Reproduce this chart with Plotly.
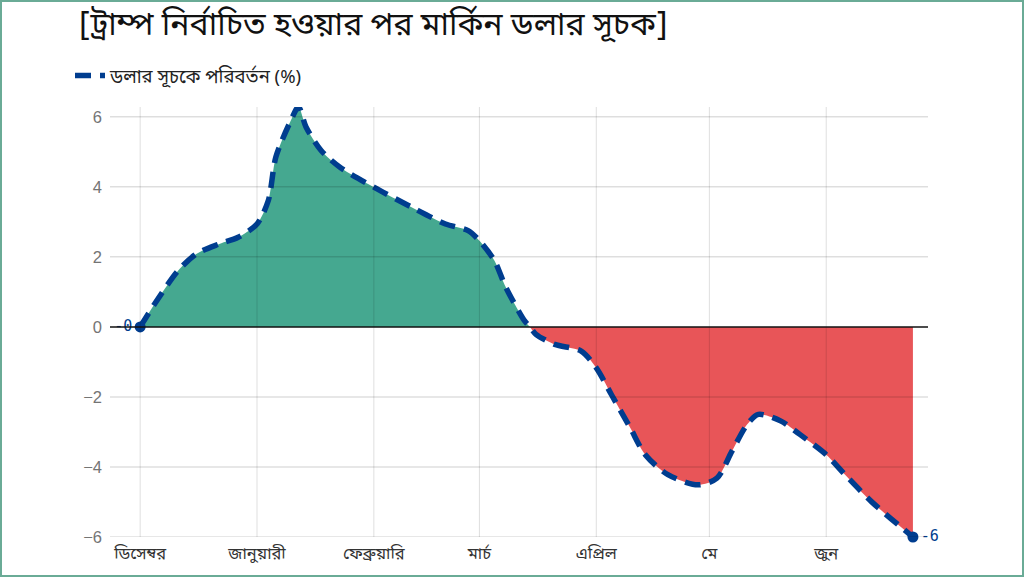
import plotly.graph_objects as go

# ---- data ----
dates = ["2024-12-01", "2024-12-05", "2024-12-11", "2024-12-16", "2024-12-22", "2024-12-27",
         "2025-01-01", "2025-01-04", "2025-01-06", "2025-01-10", "2025-01-12", "2025-01-14",
         "2025-01-18", "2025-01-23", "2025-02-01", "2025-02-11", "2025-02-20", "2025-02-26",
         "2025-03-01", "2025-03-05", "2025-03-08", "2025-03-13", "2025-03-14 10:00",
         "2025-03-16", "2025-03-21", "2025-03-28", "2025-04-01", "2025-04-05", "2025-04-10",
         "2025-04-14", "2025-04-20", "2025-04-28", "2025-05-03", "2025-05-07", "2025-05-11",
         "2025-05-14", "2025-05-20", "2025-05-25", "2025-06-01", "2025-06-06", "2025-06-13",
         "2025-06-24"]
values = [0, 0.68, 1.6, 2.09, 2.37, 2.56,
          2.94, 3.61, 4.85, 5.9, 6.28, 5.71,
          5.04, 4.56, 3.99, 3.42, 2.94, 2.75,
          2.46, 1.89, 1.13, 0.17, 0,
          -0.21, -0.5, -0.69, -1.17, -1.93, -2.88,
          -3.65, -4.22, -4.51, -4.32, -3.55, -2.79,
          -2.5, -2.69, -3.07, -3.65, -4.22, -4.99,
          -6.0]
tick_dates = ["2024-12-01", "2025-01-01", "2025-02-01", "2025-03-01",
              "2025-04-01", "2025-05-01", "2025-06-01"]
tick_labels = ["ডিসেম্বর", "জানুয়ারী", "ফেব্রুয়ারি", "মার্চ", "এপ্রিল", "মে", "জুন"]
y_ticks = [-6, -4, -2, 0, 2, 4, 6]
series_name = "ডলার সূচকে পরিবর্তন (%)"
title_text = "[ট্রাম্প নির্বাচিত হওয়ার পর মার্কিন ডলার সূচক]"
end_labels = ["-0", "-6"]

FONT = "Noto Sans Bengali, Noto Sans, Lato, sans-serif"
GREEN = "#45a890"
RED = "#e85558"
BLUE = "#003d8f"

cross = values.index(0, 1)
pos_x, pos_y = dates[:cross + 1], values[:cross + 1]
neg_x, neg_y = dates[cross:], values[cross:]

fig = go.Figure()
fig.add_trace(go.Scatter(x=pos_x, y=pos_y, mode="lines", fill="tozeroy",
                         fillcolor=GREEN, line=dict(width=0, shape="spline", smoothing=0.8),
                         showlegend=False, hoverinfo="skip"))
fig.add_trace(go.Scatter(x=neg_x, y=neg_y, mode="lines", fill="tozeroy",
                         fillcolor=RED, line=dict(width=0, shape="spline", smoothing=0.8),
                         showlegend=False, hoverinfo="skip"))
fig.add_trace(go.Scatter(x=dates, y=values, mode="lines", name=series_name,
                         line=dict(color=BLUE, width=5.5, dash="16px,9px", shape="spline",
                                   smoothing=0.8)))
fig.add_trace(go.Scatter(x=[dates[0], dates[-1]], y=[values[0], values[-1]],
                         mode="markers+text", text=end_labels,
                         textposition=["middle left", "middle right"],
                         textfont=dict(color=BLUE, size=15, family="DejaVu Sans Mono"),
                         marker=dict(color=BLUE, size=11), cliponaxis=False,
                         showlegend=False))

shapes = []
for d in tick_dates:
    shapes.append(dict(type="line", xref="x", yref="paper", x0=d, x1=d, y0=0, y1=1,
                       line=dict(color="rgba(0,0,0,0.13)", width=1), layer="above"))
for v in y_ticks:
    if v != 0:
        shapes.append(dict(type="line", xref="paper", yref="y", x0=0, x1=1, y0=v, y1=v,
                           line=dict(color="rgba(0,0,0,0.13)", width=1.5), layer="above"))
shapes.append(dict(type="line", xref="paper", yref="y", x0=0, x1=1, y0=0, y1=0,
                   line=dict(color="#111", width=1.5), layer="above"))
# outer frame
L, R, T, B = 110, 96, 107, 40
W, H = 1024, 577
pw, ph = W - L - R, H - T - B
shapes.append(dict(type="rect", xref="paper", yref="paper",
                   x0=(1 - L) / pw, x1=(W - 1 - L) / pw,
                   y0=-(B - 1) / ph, y1=1 + (T - 1) / ph,
                   line=dict(color="#6aab96", width=2), layer="above"))

fig.update_layout(
    width=W, height=H,
    margin=dict(l=L, r=R, t=T, b=B),
    paper_bgcolor="white", plot_bgcolor="white",
    font=dict(family=FONT),
    title=dict(text=title_text, xref="container", yref="container",
               x=79 / W, xanchor="left", y=1 - 13 / H, yanchor="top",
               font=dict(size=32, color="#111", family=FONT)),
    showlegend=True,
    legend=dict(xref="container", yref="container", x=70 / W, y=1 - 57 / H,
                xanchor="left", yanchor="top", orientation="h",
                font=dict(size=18.5, color="#222", family=FONT), itemwidth=30),
    xaxis=dict(type="date", range=["2024-11-23", "2025-06-28"], tickvals=tick_dates,
               ticktext=tick_labels, showgrid=False, zeroline=False, showline=False,
               tickfont=dict(size=16.5, color="#333", family=FONT), ticks="",
               ticklabelstandoff=4),
    yaxis=dict(range=[-6, 6.28], tickvals=y_ticks, showgrid=False, zeroline=False,
               tickfont=dict(size=16.5, color="#747474", family="Liberation Sans, Arial"),
               ticks="", ticklabelstandoff=7),
    shapes=shapes,
)

fig.write_html("out.html", config={"displayModeBar": False},
               post_script="document.body.style.margin='0px';document.body.style.overflow='hidden';")
